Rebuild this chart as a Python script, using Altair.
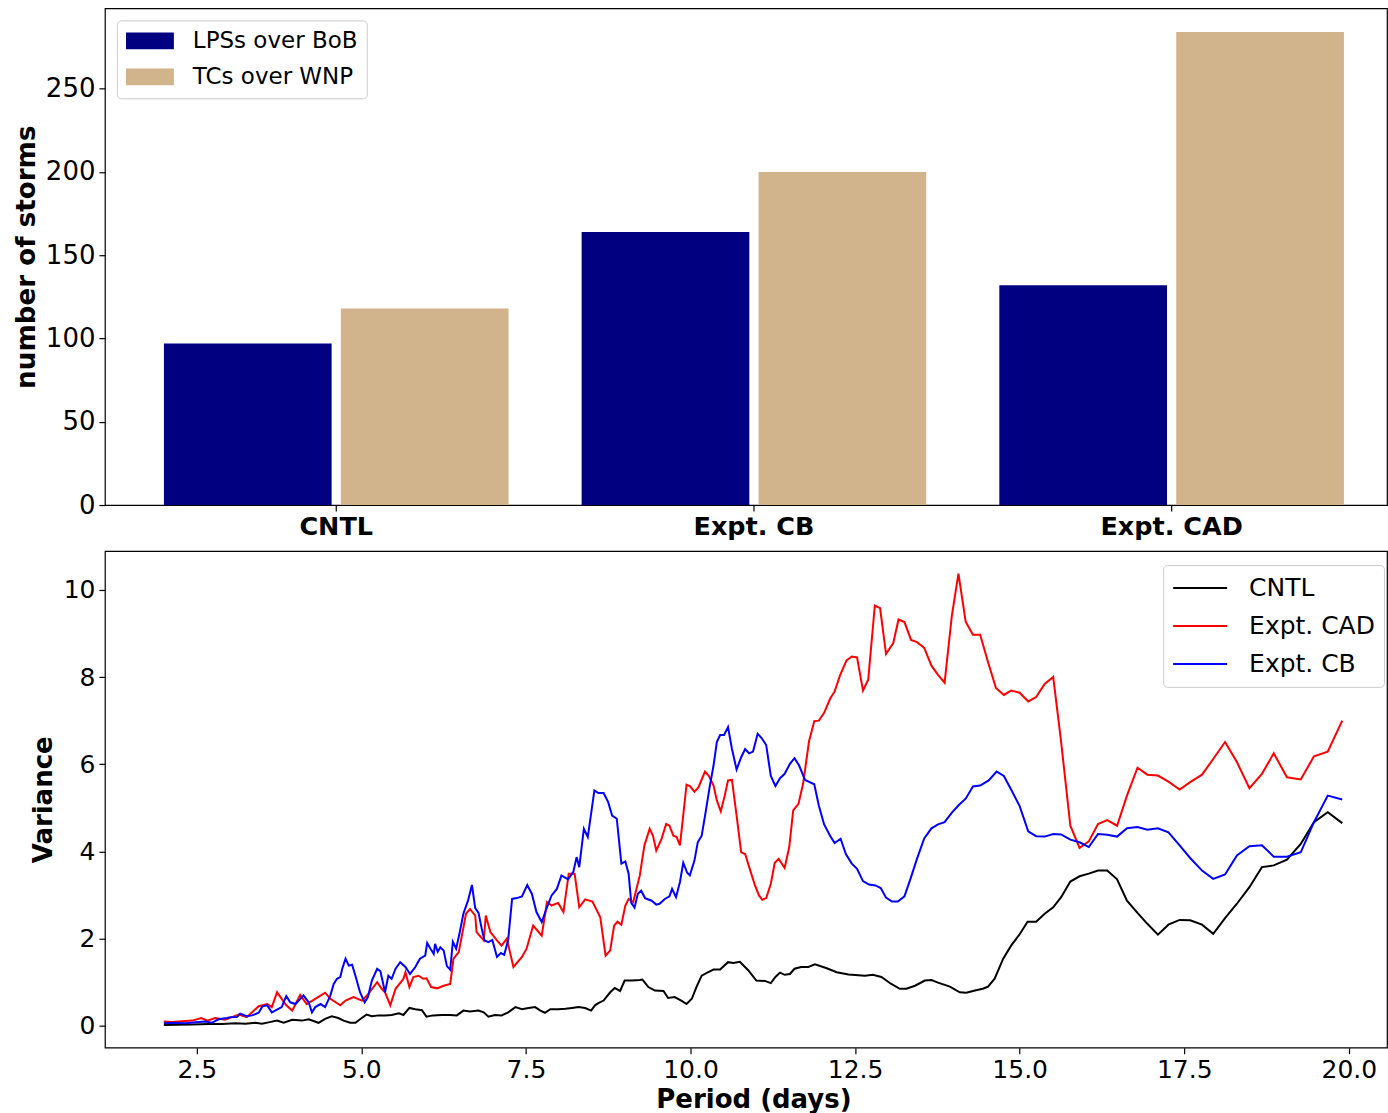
import altair as alt
import pandas as pd

# ---------------- storm counts (upper panel) ----------------
experiments = ["CNTL", "Expt. CB", "Expt. CAD"]
storm_types = ["LPSs over BoB", "TCs over WNP"]
lps_bob = [97, 164, 132]
tc_wnp = [118, 200, 284]
storm_colors = ["#000080", "#d2b48c"]

# ---------------- variance spectra (lower panel) ----------------
cntl_period = [
    2.00, 2.43, 2.68, 2.88, 3.09, 3.24, 3.39, 3.49, 3.59, 3.72, 3.82, 3.95, 4.10, 4.20,
    4.35, 4.45, 4.55, 4.65, 4.73, 4.83, 4.91, 4.98, 5.08, 5.16, 5.26, 5.36, 5.46, 5.57,
    5.64, 5.73, 5.82, 5.92, 5.99, 6.09, 6.22, 6.35, 6.45, 6.55, 6.65, 6.78, 6.86, 6.93,
    7.03, 7.13, 7.23, 7.34, 7.44, 7.54, 7.64, 7.72, 7.79, 7.87, 7.99, 8.10, 8.20, 8.30,
    8.40, 8.49, 8.55, 8.60, 8.68, 8.78, 8.85, 8.93, 9.00, 9.11, 9.23, 9.27, 9.36, 9.46,
    9.59, 9.66, 9.76, 9.86, 9.94, 10.02, 10.09, 10.17, 10.27, 10.35, 10.45, 10.57, 10.65,
    10.75, 10.88, 11.00, 11.13, 11.22, 11.29, 11.36, 11.43, 11.51, 11.58, 11.68, 11.79,
    11.89, 12.07, 12.22, 12.40, 12.65, 12.77, 12.90, 13.05, 13.18, 13.28, 13.41, 13.56,
    13.66, 13.76, 13.94, 14.09, 14.19, 14.32, 14.44, 14.52, 14.62, 14.75, 14.87, 15.00,
    15.12, 15.25, 15.38, 15.51, 15.63, 15.77, 15.91, 16.05, 16.19, 16.33, 16.48, 16.63,
    16.79, 16.94, 17.10, 17.26, 17.43, 17.59, 17.77, 17.94, 18.12, 18.30, 18.49, 18.68,
    18.86, 19.06, 19.27, 19.47, 19.68, 19.90,
]
cntl_variance = [
    0.02, 0.03, 0.04, 0.04, 0.06, 0.05, 0.07, 0.05, 0.08, 0.12, 0.07, 0.14, 0.12, 0.15,
    0.07, 0.16, 0.22, 0.18, 0.12, 0.07, 0.07, 0.15, 0.26, 0.22, 0.24, 0.24, 0.25, 0.29,
    0.25, 0.41, 0.38, 0.36, 0.21, 0.24, 0.25, 0.25, 0.24, 0.35, 0.33, 0.35, 0.31, 0.21,
    0.25, 0.24, 0.31, 0.43, 0.38, 0.41, 0.43, 0.35, 0.30, 0.38, 0.38, 0.39, 0.41, 0.43,
    0.41, 0.35, 0.47, 0.52, 0.58, 0.77, 0.87, 0.80, 1.04, 1.04, 1.05, 1.06, 0.89, 0.81,
    0.80, 0.64, 0.66, 0.58, 0.50, 0.62, 0.89, 1.15, 1.23, 1.29, 1.29, 1.46, 1.44,
    1.47, 1.27, 1.04, 1.03, 0.98, 1.12, 1.22, 1.17, 1.19, 1.31, 1.35, 1.35,
    1.41, 1.32, 1.23, 1.18, 1.15, 1.17, 1.12, 0.96, 0.85, 0.85, 0.92, 1.04,
    1.05, 0.99, 0.90, 0.77, 0.76, 0.81, 0.85, 0.90, 1.08, 1.54, 1.84, 2.10,
    2.39, 2.39, 2.57, 2.72, 2.95, 3.31, 3.43, 3.49, 3.56, 3.56, 3.36, 2.87,
    2.59, 2.34, 2.09, 2.32, 2.43, 2.42, 2.32, 2.11, 2.47, 2.80, 3.18, 3.64,
    3.68, 3.81, 4.17, 4.67, 4.90, 4.65,
]

cad_period = [
    2.00, 2.12, 2.23, 2.43, 2.57, 2.66, 2.78, 2.93, 3.14, 3.26, 3.44, 3.57, 3.64, 3.72,
    3.79, 3.86, 3.95, 4.07, 4.17, 4.30, 4.45, 4.53, 4.68, 4.76, 4.88, 5.01, 5.09, 5.24,
    5.31, 5.36, 5.44, 5.52, 5.64, 5.67, 5.73, 5.79, 5.87, 5.94, 5.99, 6.06, 6.15, 6.25,
    6.35, 6.40, 6.48, 6.59, 6.65, 6.73, 6.75, 6.86, 6.89, 6.96, 7.06, 7.13, 7.21, 7.31,
    7.44, 7.51, 7.61, 7.74, 7.82, 7.89, 7.99, 8.07, 8.15, 8.24, 8.31, 8.40, 8.51, 8.63,
    8.71, 8.78, 8.84, 8.89, 8.95, 9.01, 9.06, 9.13, 9.23, 9.30, 9.38, 9.43, 9.48, 9.56,
    9.63, 9.68, 9.74, 9.79, 9.84, 9.94, 9.99, 10.06, 10.12, 10.22, 10.28, 10.35, 10.40,
    10.46, 10.52, 10.57, 10.63, 10.70, 10.77, 10.83, 10.90, 10.98, 11.04, 11.09, 11.15,
    11.22, 11.28, 11.34, 11.43, 11.50, 11.56, 11.64, 11.71, 11.80, 11.88, 11.95, 12.03,
    12.12, 12.19, 12.27, 12.37, 12.45, 12.53, 12.62, 12.70, 12.80, 12.88, 12.97, 13.08,
    13.16, 13.25, 13.35, 13.44, 13.55, 13.66, 13.76, 13.86, 13.97, 14.07, 14.18, 14.29,
    14.40, 14.52, 14.64, 14.76, 14.87, 15.00, 15.13, 15.25, 15.38, 15.51, 15.63, 15.77,
    15.91, 16.05, 16.19, 16.33, 16.48, 16.63, 16.79, 16.94, 17.10, 17.26, 17.43, 17.59,
    17.77, 17.94, 18.12, 18.30, 18.49, 18.68, 18.86, 19.06, 19.27, 19.47, 19.68, 19.90,
]
cad_variance = [
    0.10, 0.09, 0.10, 0.12, 0.18, 0.12, 0.18, 0.14, 0.26, 0.20, 0.45, 0.50, 0.43, 0.77,
    0.62, 0.47, 0.35, 0.71, 0.50, 0.62, 0.76, 0.62, 0.47, 0.58, 0.66, 0.58, 0.70, 1.00,
    0.85, 0.77, 0.47, 0.85, 1.08, 1.23, 0.89, 1.12, 1.15, 1.08, 1.09, 0.89, 0.86, 0.92,
    0.96, 1.54, 1.69, 2.57, 2.68, 2.53, 2.15, 1.96, 2.53, 2.15, 1.96, 1.84, 2.00, 1.35,
    1.58, 1.77, 2.30, 2.07, 2.84, 2.76, 2.82, 2.61, 3.49, 3.49, 2.72, 2.90, 2.85, 2.49,
    1.61, 1.73, 2.30, 2.39, 2.32, 2.76, 2.91, 2.84, 3.45, 4.14, 4.52, 4.36, 4.02, 4.29,
    4.63, 4.59, 4.36, 4.33, 4.14, 5.53, 5.50, 5.37, 5.47, 5.83, 5.73, 5.51, 5.17,
    4.92, 5.28, 5.63, 5.64, 4.82, 3.98, 3.94, 3.60, 3.22, 2.99, 2.89, 2.93,
    3.26, 3.74, 3.83, 3.62, 4.10, 4.94, 5.09, 5.55, 6.52, 6.99, 7.00, 7.18,
    7.50, 7.67, 8.03, 8.38, 8.47, 8.45, 7.69, 7.94, 9.64, 9.58, 8.53, 8.78,
    9.32, 9.26, 8.85, 8.80, 8.67, 8.26, 8.05, 7.87, 9.41, 10.37, 9.27, 8.97,
    8.97, 8.34, 7.75, 7.59, 7.69, 7.64, 7.44, 7.54, 7.84, 8.00, 6.51, 4.59,
    4.08, 4.23, 4.63, 4.72, 4.59, 5.28, 5.92, 5.76, 5.74, 5.60, 5.42, 5.59,
    5.76, 6.12, 6.51, 6.05, 5.45, 5.78, 6.25, 5.70, 5.65, 6.18, 6.29, 7.00,
]

cb_period = [
    2.00, 2.12, 2.33, 2.48, 2.63, 2.73, 2.83, 2.96, 3.01, 3.11, 3.16, 3.26, 3.34, 3.44,
    3.50, 3.57, 3.64, 3.69, 3.79, 3.86, 3.92, 4.00, 4.05, 4.12, 4.20, 4.25, 4.30, 4.38,
    4.45, 4.53, 4.58, 4.63, 4.68, 4.71, 4.76, 4.81, 4.86, 4.91, 4.98, 5.05, 5.10, 5.16,
    5.24, 5.29, 5.36, 5.41, 5.46, 5.52, 5.59, 5.67, 5.74, 5.82, 5.89, 5.97, 6.00, 6.05,
    6.10, 6.12, 6.16, 6.20, 6.25, 6.30, 6.35, 6.39, 6.44, 6.49, 6.55, 6.62, 6.68, 6.73,
    6.78, 6.83, 6.87, 6.93, 6.99, 7.06, 7.12, 7.17, 7.23, 7.29, 7.36, 7.44, 7.52, 7.59,
    7.66, 7.74, 7.82, 7.89, 7.97, 8.04, 8.14, 8.22, 8.27, 8.31, 8.38, 8.44, 8.54, 8.60,
    8.68, 8.75, 8.81, 8.88, 8.95, 9.01, 9.06, 9.10, 9.15, 9.20, 9.25, 9.31, 9.41, 9.48,
    9.53, 9.61, 9.68, 9.72, 9.78, 9.84, 9.89, 9.95, 9.99, 10.06, 10.11, 10.17, 10.23,
    10.29, 10.35, 10.40, 10.45, 10.51, 10.57, 10.63, 10.70, 10.77, 10.83, 10.89, 10.95,
    11.02, 11.08, 11.15, 11.22, 11.29, 11.36, 11.43, 11.51, 11.58, 11.65, 11.74, 11.88,
    11.95, 12.03, 12.12, 12.19, 12.28, 12.36, 12.45, 12.53, 12.62, 12.71, 12.81, 12.89,
    12.97, 13.06, 13.15, 13.25, 13.35, 13.44, 13.55, 13.66, 13.76, 13.86, 13.97, 14.08,
    14.18, 14.29, 14.40, 14.53, 14.65, 14.76, 14.87, 15.00, 15.13, 15.25, 15.38, 15.51,
    15.63, 15.77, 15.91, 16.05, 16.19, 16.33, 16.48, 16.63, 16.79, 16.94, 17.10, 17.26,
    17.43, 17.59, 17.77, 17.94, 18.12, 18.30, 18.49, 18.68, 18.86, 19.06, 19.27, 19.47,
    19.68, 19.90,
]
cb_variance = [
    0.06, 0.07, 0.06, 0.08, 0.10, 0.07, 0.15, 0.18, 0.20, 0.20, 0.28, 0.22, 0.24, 0.30,
    0.45, 0.47, 0.31, 0.35, 0.43, 0.68, 0.54, 0.50, 0.58, 0.70, 0.54, 0.31, 0.43, 0.50,
    0.43, 0.70, 0.96, 1.08, 1.12, 1.31, 1.54, 1.38, 1.40, 1.15, 0.77, 0.54, 0.66, 1.04,
    1.31, 1.25, 0.77, 1.15, 1.08, 1.31, 1.46, 1.35, 1.19, 1.35, 1.54, 1.61, 1.90, 1.77,
    1.65, 1.88, 1.70, 1.80, 1.73, 1.37, 1.29, 1.93, 1.77, 2.11, 2.57, 2.87, 3.23, 2.70,
    2.59, 2.22, 1.96, 1.92, 1.97, 1.58, 1.67, 1.63, 1.96, 2.91, 2.93, 2.97, 3.23, 3.03,
    2.61, 2.38, 2.72, 2.99, 3.14, 3.45, 3.36, 3.53, 3.87, 3.64, 4.52, 4.33, 5.40, 5.34,
    5.34, 5.13, 4.82, 4.75, 3.72, 3.77, 3.49, 2.82, 2.71, 3.03, 3.10, 2.93, 2.87, 2.78,
    2.80, 2.91, 2.97, 3.14, 2.95, 3.30, 3.74, 3.51, 3.45, 3.79, 4.21, 4.36, 4.90,
    5.47, 5.97, 6.51, 6.67, 6.67, 6.85, 6.35, 5.88, 6.16, 6.35, 6.25, 6.29,
    6.70, 6.60, 6.44, 5.73, 5.50, 5.68, 5.78, 6.01, 6.14, 5.97, 5.64, 5.54,
    5.05, 4.62, 4.36, 4.19, 4.29, 3.94, 3.72, 3.60, 3.32, 3.24, 3.22, 3.16,
    2.94, 2.85, 2.85, 2.97, 3.41, 3.83, 4.30, 4.53, 4.62, 4.67, 4.89, 5.07,
    5.21, 5.49, 5.51, 5.63, 5.83, 5.73, 5.42, 5.04, 4.46, 4.35, 4.34, 4.40,
    4.39, 4.27, 4.21, 4.10, 4.40, 4.38, 4.34, 4.53, 4.56, 4.50, 4.53, 4.44,
    4.14, 3.85, 3.56, 3.37, 3.47, 3.91, 4.12, 4.14, 3.88, 3.88, 3.98, 4.67,
    5.28, 5.19,
]

series_names = ["CNTL", "Expt. CAD", "Expt. CB"]
series_colors = ["black", "red", "blue"]

# ---------------- tables ----------------
bars_df = pd.DataFrame({
    "experiment": experiments * 2,
    "storm": [storm_types[0]] * 3 + [storm_types[1]] * 3,
    "count": lps_bob + tc_wnp,
})

spectra_df = pd.concat([
    pd.DataFrame({"period": cntl_period, "variance": cntl_variance, "run": series_names[0]}),
    pd.DataFrame({"period": cad_period, "variance": cad_variance, "run": series_names[1]}),
    pd.DataFrame({"period": cb_period, "variance": cb_variance, "run": series_names[2]}),
], ignore_index=True)

FONT = "DejaVu Sans"
PLOT_W = 1283
PLOT_H = 497

legend_box = dict(
    title=None,
    orient="none",
    strokeColor="#cccccc",
    fillColor="white",
    cornerRadius=4,
    labelColor="black",
    labelFont=FONT,
    labelLimit=0,
)

bar_chart = alt.Chart(bars_df).mark_bar().encode(
    x=alt.X(
        "experiment:N",
        sort=experiments,
        scale=alt.Scale(paddingInner=0.175, paddingOuter=0.1222, align=0.578),
        axis=alt.Axis(
            title=None, labelAngle=0, labelFontWeight="bold", labelFontSize=25.5,
            tickSize=6, labelPadding=3,
        ),
    ),
    xOffset=alt.XOffset(
        "storm:N", sort=storm_types,
        scale=alt.Scale(paddingInner=0.052, paddingOuter=0),
    ),
    y=alt.Y(
        "count:Q",
        scale=alt.Scale(domain=[0, 298.2], nice=False, zero=True),
        axis=alt.Axis(
            values=[0, 50, 100, 150, 200, 250], title="number of storms",
            titleFontWeight="bold", titleFontSize=26.2, titleX=-70,
            titleBaseline="alphabetic", labelFontSize=26, tickSize=6, labelPadding=4,
        ),
    ),
    color=alt.Color(
        "storm:N",
        sort=storm_types,
        scale=alt.Scale(domain=storm_types, range=storm_colors),
        legend=alt.Legend(
            legendX=12, legendY=12,
            symbolType="M-1,-0.35H1V0.35H-1Z", symbolSize=2304, symbolStrokeWidth=0,
            labelFontSize=23, labelOffset=19, padding=9, rowPadding=12, clipHeight=23,
            **legend_box,
        ),
    ),
).properties(width=PLOT_W, height=PLOT_H)

line_chart = alt.Chart(spectra_df).mark_line(strokeWidth=2).encode(
    x=alt.X(
        "period:Q",
        scale=alt.Scale(domain=[1.105, 20.58], nice=False, zero=False),
        axis=alt.Axis(
            values=[2.5, 5.0, 7.5, 10.0, 12.5, 15.0, 17.5, 20.0], format=".1f",
            title="Period (days)", titleFontWeight="bold", titleFontSize=26,
            titleX=649, titleY=60, titleAlign="center", titleBaseline="alphabetic",
            labelFontSize=25, tickSize=6, labelPadding=4,
        ),
    ),
    y=alt.Y(
        "variance:Q",
        scale=alt.Scale(domain=[-0.50, 10.89], nice=False, zero=False),
        axis=alt.Axis(
            values=[0, 2, 4, 6, 8, 10], title="Variance",
            titleFontWeight="bold", titleFontSize=26, titleX=-53,
            titleBaseline="alphabetic", labelFontSize=25, tickSize=6, labelPadding=4,
        ),
    ),
    color=alt.Color(
        "run:N",
        sort=series_names,
        scale=alt.Scale(domain=series_names, range=series_colors),
        legend=alt.Legend(
            legendX=1059, legendY=14,
            symbolType="stroke", symbolSize=2916, symbolStrokeWidth=2,
            labelFontSize=25, labelOffset=21, padding=9, rowPadding=10, clipHeight=28,
            **legend_box,
        ),
    ),
    order=alt.Order("period:Q"),
).properties(width=PLOT_W, height=PLOT_H)

chart = alt.vconcat(bar_chart, line_chart, spacing=46, bounds="flush").resolve_scale(
    color="independent",
).resolve_legend(
    color="independent",
).properties(
    padding={"left": 13, "top": 7, "right": 0, "bottom": 0},
).configure(
    font=FONT,
).configure_view(
    stroke="black", strokeWidth=1.2,
).configure_axis(
    domain=False, grid=False, tickColor="black", labelColor="black",
    titleColor="black", labelFont=FONT, titleFont=FONT, tickWidth=1.2,
)

chart.save("out.html", embed_options={"renderer": "svg", "actions": False})
